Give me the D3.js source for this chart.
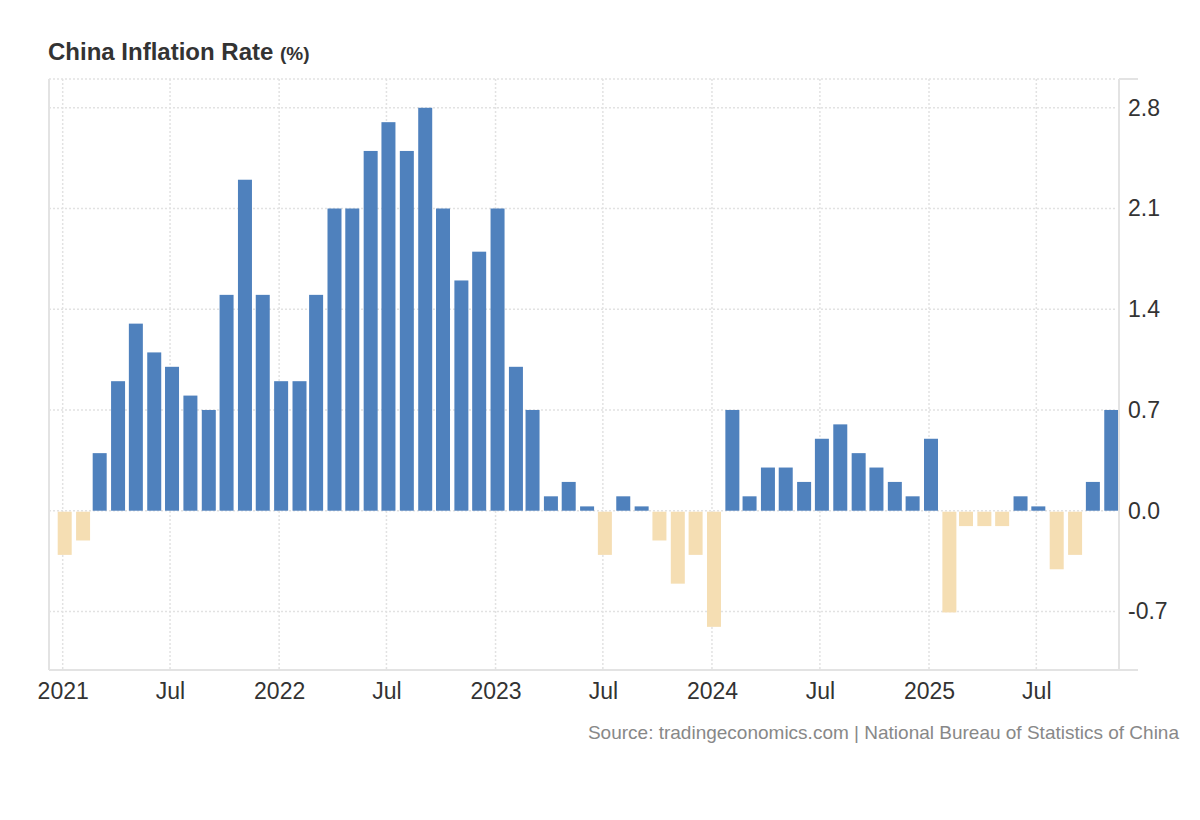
<!DOCTYPE html>
<html>
<head>
<meta charset="utf-8">
<script src="https://cdn.jsdelivr.net/npm/d3@7"></script>
<style>
  body { margin: 0; background: #fff; }
  text { font-family: "Liberation Sans", Arial, sans-serif; }
  .grid line { stroke: #e2e2e2; stroke-width: 1.5; stroke-dasharray: 2,2; }
  .frame { stroke: #e3e3e3; stroke-width: 2; }
</style>
</head>
<body>
<svg id="chart" width="1200" height="820"></svg>
<script>
// monthly readings, Jan 2021 .. Nov 2025
var months = d3.timeMonths(new Date(2021, 0, 1), new Date(2025, 11, 1));
var values2021 = [-0.3, -0.2, 0.4, 0.9, 1.3, 1.1, 1.0, 0.8, 0.7, 1.5, 2.3, 1.5];
var values2022 = [0.9, 0.9, 1.5, 2.1, 2.1, 2.5, 2.7, 2.5, 2.8, 2.1, 1.6, 1.8];
var values2023 = [2.1, 1.0, 0.7, 0.1, 0.2, 0.03, -0.3, 0.1, 0.03, -0.2, -0.5, -0.3];
var values2024 = [-0.8, 0.7, 0.1, 0.3, 0.3, 0.2, 0.5, 0.6, 0.4, 0.3, 0.2, 0.1];
var values2025 = [0.5, -0.7, -0.1, -0.1, -0.1, 0.1, 0.03, -0.4, -0.3, 0.2, 0.7];
var yTicks = [-0.7, 0.0, 0.7, 1.4, 2.1, 2.8];
var xTickDates = [
  new Date(2021, 0, 1), new Date(2021, 6, 1), new Date(2022, 0, 1), new Date(2022, 6, 1),
  new Date(2023, 0, 1), new Date(2023, 6, 1), new Date(2024, 0, 1), new Date(2024, 6, 1),
  new Date(2025, 0, 1), new Date(2025, 6, 1)
];

var values = values2021.concat(values2022, values2023, values2024, values2025);
var data = months.map(function(m, i){ return {date: m, value: values[i]}; });

var LEFT = 49, RIGHT = 1119, TOP = 79, BOTTOM = 669, BARW = 14;

var svg = d3.select("#chart");

var x = d3.scaleTime()
  .domain([new Date(2021, 0, 1), new Date(2025, 0, 1)])
  .range([62.7, 929]);
var y = d3.scaleLinear()
  .domain([-1.1, 3.0])
  .range([BOTTOM, TOP]);

//Title
var title = svg.append("text")
  .attr("x", 48)
  .attr("y", 60)
  .attr("fill", "#333")
  .attr("font-weight", "bold")
  .attr("font-size", "24px");
title.append("tspan").text("China Inflation Rate ");
title.append("tspan").attr("font-size", "19px").text("(%)");

//Grid
var grid = svg.append("g").attr("class", "grid");
grid.selectAll(".hgrid")
  .data(yTicks.concat([3.0]))
  .enter()
  .append("line")
  .attr("x1", LEFT)
  .attr("x2", RIGHT - 2)
  .attr("y1", function(d){ return y(d); })
  .attr("y2", function(d){ return y(d); });
grid.selectAll(".vgrid")
  .data(xTickDates)
  .enter()
  .append("line")
  .attr("x1", function(d){ return x(d); })
  .attr("x2", function(d){ return x(d); })
  .attr("y1", TOP)
  .attr("y2", BOTTOM);

//Bars
svg.append("g")
  .selectAll("rect")
  .data(data)
  .enter()
  .append("rect")
  .attr("x", function(d){ return x(d.date) + 2 - BARW / 2; })
  .attr("width", BARW)
  .attr("y", function(d){ return d.value >= 0 ? y(d.value) : y(0) + 1; })
  .attr("height", function(d){ return Math.abs(y(d.value) - y(0)); })
  .attr("fill", function(d){ return d.value >= 0 ? "#4f81bd" : "#f5deb3"; });

//Frame
svg.append("line").attr("class", "frame")
  .attr("x1", LEFT).attr("x2", LEFT).attr("y1", TOP).attr("y2", BOTTOM + 1);
svg.append("line").attr("class", "frame")
  .attr("x1", LEFT).attr("x2", 1138).attr("y1", BOTTOM + 1).attr("y2", BOTTOM + 1);
svg.append("line").attr("class", "frame")
  .attr("x1", RIGHT).attr("x2", RIGHT).attr("y1", TOP).attr("y2", BOTTOM + 1);
svg.append("line").attr("class", "frame")
  .attr("x1", RIGHT).attr("x2", 1138).attr("y1", TOP).attr("y2", TOP);

//Y axis on the right
var yAxis = svg.append("g")
  .attr("transform", "translate(" + RIGHT + ",0)")
  .call(d3.axisRight(y).tickValues(yTicks).tickSize(0).tickPadding(9)
    .tickFormat(function(d){ return d3.format(".1f")(d).replace("\u2212", "-"); }));
yAxis.select(".domain").remove();
yAxis.selectAll("text")
  .attr("fill", "#333")
  .attr("font-size", "23px")
  .attr("font-family", "Liberation Sans, Arial, sans-serif");

//X axis
var xAxis = svg.append("g")
  .attr("transform", "translate(0," + (BOTTOM + 1) + ")")
  .call(d3.axisBottom(x).tickValues(xTickDates).tickSize(0).tickPadding(13)
    .tickFormat(function(d){ return d.getMonth() === 0 ? d3.timeFormat("%Y")(d) : d3.timeFormat("%b")(d); }));
xAxis.select(".domain").remove();
xAxis.selectAll("text")
  .attr("fill", "#333")
  .attr("font-size", "23px")
  .attr("font-family", "Liberation Sans, Arial, sans-serif");

//Source
svg.append("text")
  .attr("x", 1179)
  .attr("y", 739)
  .attr("text-anchor", "end")
  .attr("fill", "#888")
  .attr("font-size", "19px")
  .text("Source: tradingeconomics.com | National Bureau of Statistics of China");
</script>
</body>
</html>
